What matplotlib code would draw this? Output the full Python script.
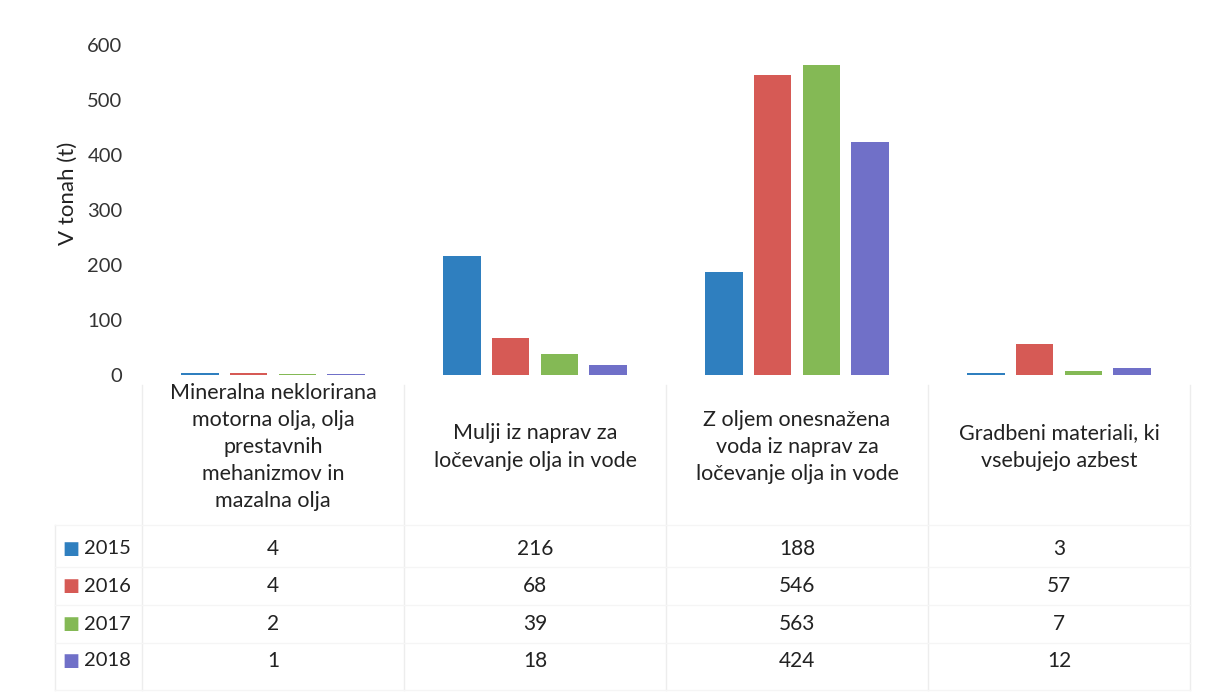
import numpy as np
import matplotlib
matplotlib.use('Agg')
import matplotlib.pyplot as plt
import matplotlib.transforms as mtransforms

plt.rcParams['font.family'] = ['Lato', 'DejaVu Sans']

# Podatki
kategorije = ['Mineralna neklorirana\nmotorna olja, olja\nprestavnih\nmehanizmov in\nmazalna olja',
              'Mulji iz naprav za\nločevanje olja in vode',
              'Z oljem onesnažena\nvoda iz naprav za\nločevanje olja in vode',
              'Gradbeni materiali, ki\nvsebujejo azbest']
leta = ['2015', '2016', '2017', '2018']
v2015 = [4, 216, 188, 3]
v2016 = [4, 68, 546, 57]
v2017 = [2, 39, 563, 7]
v2018 = [1, 18, 424, 12]
barve = ['#2f7fbf', '#d65a55', '#84b955', '#7070c8']

serije = [v2015, v2016, v2017, v2018]

fig = plt.figure(figsize=(12.08, 7), dpi=100)
ax = fig.add_axes([142 / 1208, 325 / 700, 1048 / 1208, 330 / 700])

x = np.arange(len(kategorije))
sirina = 0.145
korak = 0.187
for i, (vals, c) in enumerate(zip(serije, barve)):
    ax.bar(x + (i - 1.5) * korak, vals, width=sirina, color=c, label=leta[i])

ax.set_xlim(-0.5, len(kategorije) - 0.5)
ax.set_ylim(0, 600)
ax.set_yticks(range(0, 601, 100))
ax.tick_params(axis='y', length=0, labelsize=14.5, colors='#333333', pad=14)
ax.set_xticks([])
for s in ax.spines.values():
    s.set_visible(False)
ax.set_ylabel('V tonah (t)', fontsize=16, color='#222222')
ax.yaxis.set_label_coords(-64 / 1048, 0.55)

# Tabela s podatki pod grafom
trans = mtransforms.blended_transform_factory(ax.transData, fig.transFigure)
for j, k in enumerate(kategorije):
    ax.text(x[j], 1 - 447 / 700, k, transform=trans, ha='center', va='center',
            fontsize=15.5, color='#222222', linespacing=1.45)

vrstice_y = [549, 586, 624, 661]
for i, vals in enumerate(serije):
    yy = 1 - vrstice_y[i] / 700
    for j, v in enumerate(vals):
        ax.text(x[j], yy, str(v), transform=trans, ha='center', va='center',
                fontsize=15, color='#222222')
    fig.text(71 / 1208, yy, '■', color=barve[i], fontsize=13, ha='center', va='center',
             family='DejaVu Sans')
    fig.text(84 / 1208, yy, leta[i], color='#222222', fontsize=14.5, ha='left', va='center')

# mreža tabele (zelo svetla)
siva = '#ededed'
for xb in np.arange(-0.5, len(kategorije)):
    ax.plot([xb, xb], [1 - 385 / 700, 1 - 690 / 700], transform=trans, color=siva,
            lw=1, clip_on=False)
fig.add_artist(plt.Line2D([55 / 1208, 55 / 1208], [1 - 525 / 700, 1 - 690 / 700], color=siva, lw=1))
for yb in [525, 567, 605, 643, 690]:
    fig.add_artist(plt.Line2D([55 / 1208, 1190 / 1208], [1 - yb / 700, 1 - yb / 700],
                              color='#f5f5f5', lw=1))

fig.savefig('out.png', dpi=100, facecolor='white')
